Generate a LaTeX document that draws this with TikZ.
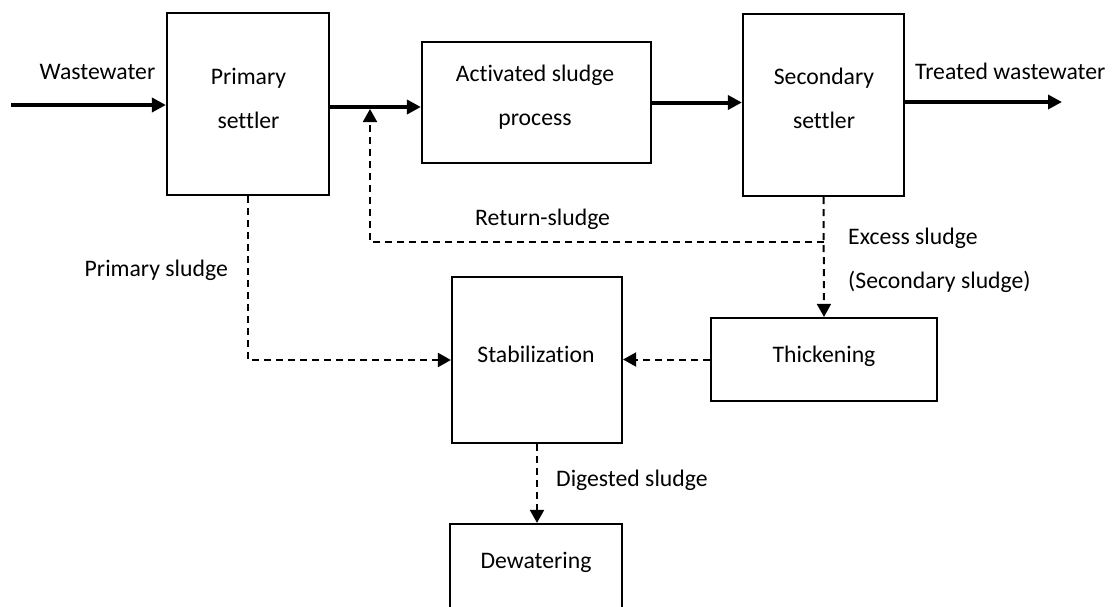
\documentclass[tikz,border=0pt]{standalone}
\usepackage{fontspec}
\setmainfont{Carlito}[Ligatures=NoCommon]
\usetikzlibrary{arrows.meta,calc}
\tikzset{
  box/.style={draw=black, line width=2.2pt, fill=white, inner sep=0pt},
  txt/.style={font=\fontsize{23.7}{44}\selectfont, inner sep=0pt, align=center, anchor=base},
  mainflow/.style={line width=4pt, -{Triangle[length=14pt,width=14pt]}},
  dflow/.style={line width=2pt, dash pattern=on 7pt off 5pt, -{Triangle[length=13pt,width=14pt]}}
}
\begin{document}
\begin{tikzpicture}[x=1pt,y=-1pt]
\useasboundingbox (0,0) rectangle (1112,606);
\clip (0,0) rectangle (1112,606);
\fill[white] (0,0) rectangle (1112,606);

% boxes
\node[box, minimum width=162pt, minimum height=182pt] (ps)    at (248,104) {};
\node[box, minimum width=229pt, minimum height=121pt] (asp)   at (536.5,102.5) {};
\node[box, minimum width=161pt, minimum height=182pt] (ss)    at (823.5,105) {};
\node[box, minimum width=170pt, minimum height=166pt] (stab)  at (537,360) {};
\node[box, minimum width=226pt, minimum height=83pt]  (thick) at (824,359.5) {};
\node[box, minimum width=172pt, minimum height=116pt] (dew)   at (536,582) {};

% box texts (base = baseline of the last line)
\node[txt] (pst) at (248.5,128) {Primary\\settler};
\node[txt] (aspt) at (535,125) {Activated sludge\\process};
\node[txt] (sst) at (824,128) {Secondary\\settler};
\node[txt] (stabt) at (536,362) {Stabilization};
\node[txt] (thickt) at (824,362) {Thickening};
\node[txt] (dewt) at (536,568) {Dewatering};

% free coordinates
\coordinate (win) at (11,105);
\coordinate (jn) at (370,107);
\coordinate (jtip) at (370,109);
\coordinate (wout) at (1062,102);
\coordinate (rt) at (370,242);

% main flow
\draw[mainflow] (win) -- (ps.west |- win);
\draw[line width=4pt] (ps.east |- jn) -- (jn);
\draw[mainflow] (jn) -- (asp.west |- jn);
\draw[mainflow] (asp.east) -- (ss.west |- asp.east);
\draw[mainflow] (ss.east |- wout) -- (wout);

% sludge lines
\draw[dflow] (ss.south) -- (thick.north);
\draw[dflow] (ss.south |- rt) -- (rt) -- (jtip);
\draw[dflow] (ps.south) |- (stab.west);
\draw[dflow] (thick.west) -- (stab.east |- thick.west);
\draw[dflow] (stab.south) -- (dew.north -| stab.south);

% labels
\node[txt] (lww) at (97.5,79.5) {Wastewater};
\node[txt, anchor=base west] (ltw) at (915,79.5) {Treated wastewater};
\node[txt, anchor=base west] (lrs) at (475,225) {Return-sludge};
\node[txt, anchor=base east] (lps) at (228,276) {Primary sludge};
\node[txt, anchor=base west] (les) at (848,244) {Excess sludge};
\node[txt, anchor=base west] (lss) at (848,288) {(Secondary sludge)};
\node[txt, anchor=base west] (lds) at (556,486) {Digested sludge};
\end{tikzpicture}
\end{document}
